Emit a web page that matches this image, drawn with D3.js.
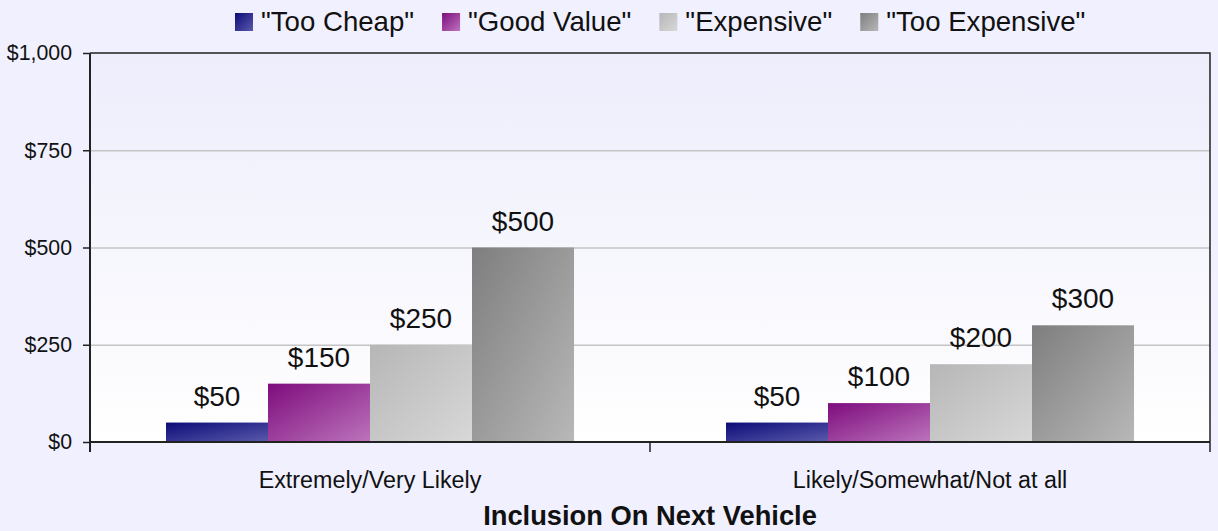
<!DOCTYPE html>
<html>
<head>
<meta charset="utf-8">
<script src="https://cdn.jsdelivr.net/npm/d3@7"></script>
<style>
  html, body { margin: 0; padding: 0; background: #f0f0ff; }
  svg { display: block; font-family: "Liberation Sans", Arial, sans-serif; }
</style>
</head>
<body>
<svg id="chart" width="1218" height="531"></svg>
<script>
const categories = ["Extremely/Very Likely", "Likely/Somewhat/Not at all"];
const seriesNames = ["\"Too Cheap\"", "\"Good Value\"", "\"Expensive\"", "\"Too Expensive\""];
const tooCheap = [50, 50];
const goodValue = [150, 100];
const expensive = [250, 200];
const tooExpensive = [500, 300];
const yTicks = [0, 250, 500, 750, 1000];
const xTitle = "Inclusion On Next Vehicle";

const seriesValues = [tooCheap, goodValue, expensive, tooExpensive];
const gradStops = [
  ["#0c0c78", "#5a5aac"],
  ["#7e0c7e", "#bc74bc"],
  ["#b6b6b6", "#d8d8d8"],
  ["#7e7e7e", "#b8b8b8"]
];

const svg = d3.select("#chart");
const W = 1218, H = 531;
const m = { left: 90, right: 1210, top: 53, bottom: 442 };

const defs = svg.append("defs");
const bg = defs.append("linearGradient").attr("id", "plotbg")
  .attr("x1", 0).attr("y1", 0).attr("x2", 0).attr("y2", 1);
bg.append("stop").attr("offset", "0%").attr("stop-color", "#ededfc");
bg.append("stop").attr("offset", "100%").attr("stop-color", "#ffffff");

gradStops.forEach((s, i) => {
  const g = defs.append("linearGradient").attr("id", "g" + i)
    .attr("x1", 0).attr("y1", 0).attr("x2", 1).attr("y2", 1);
  g.append("stop").attr("offset", "0%").attr("stop-color", s[0]);
  g.append("stop").attr("offset", "100%").attr("stop-color", s[1]);
});

svg.append("rect").attr("width", W).attr("height", H).attr("fill", "#f0f0ff");

const x0 = d3.scaleBand().domain(categories).range([m.left, m.right]).padding(0);
const x1 = d3.scaleBand().domain(seriesNames).range([0, x0.bandwidth()])
  .paddingInner(0).paddingOuter(0.745);
const y = d3.scaleLinear().domain([0, 1000]).range([m.bottom, m.top]);

// plot background
svg.append("rect")
  .attr("x", m.left).attr("y", m.top)
  .attr("width", m.right - m.left).attr("height", m.bottom - m.top)
  .attr("fill", "url(#plotbg)");

// gridlines
svg.append("g").selectAll("line")
  .data(yTicks.filter(t => t > 0 && t < 1000))
  .join("line")
  .attr("x1", m.left).attr("x2", m.right)
  .attr("y1", d => y(d) + 0.5).attr("y2", d => y(d) + 0.5)
  .attr("stroke", "#c4c4c4").attr("stroke-width", 1.5);

// plot border (top, right)
svg.append("path")
  .attr("d", `M${m.left},${m.top}H${m.right}V${m.bottom}`)
  .attr("fill", "none").attr("stroke", "#222").attr("stroke-width", 1.5);

// bars
const groups = svg.append("g").selectAll("g")
  .data(categories)
  .join("g")
  .attr("transform", d => `translate(${x0(d)},0)`);

groups.selectAll("rect")
  .data((c, ci) => seriesNames.map((s, si) => ({ s, si, v: seriesValues[si][ci] })))
  .join("rect")
  .attr("x", d => x1(d.s))
  .attr("width", x1.bandwidth())
  .attr("y", d => y(d.v))
  .attr("height", d => y(0) - y(d.v))
  .attr("fill", d => `url(#g${d.si})`);

groups.selectAll("text")
  .data((c, ci) => seriesNames.map((s, si) => ({ s, si, v: seriesValues[si][ci] })))
  .join("text")
  .attr("x", d => x1(d.s) + x1.bandwidth() / 2)
  .attr("y", d => y(d.v) - 17)
  .attr("text-anchor", "middle")
  .attr("font-size", 28)
  .attr("fill", "#111")
  .text(d => "$" + d3.format(",")(d.v));

// y axis
const yAxis = d3.axisLeft(y).tickValues(yTicks)
  .tickFormat(d => "$" + d3.format(",")(d))
  .tickSize(7).tickPadding(11);
const ya = svg.append("g").attr("transform", `translate(${m.left},0)`).call(yAxis);
ya.select(".domain").attr("stroke", "#222").attr("stroke-width", 2)
  .attr("d", `M0,${m.top}V${m.bottom + 10}`);
ya.selectAll(".tick line").attr("stroke", "#222").attr("stroke-width", 1.5);
ya.selectAll(".tick text").attr("font-size", 21.3).attr("fill", "#111")
  .attr("font-family", "Liberation Sans, Arial, sans-serif");

// x axis
const xAxis = d3.axisBottom(x0).tickSize(0).tickPadding(0);
const xa = svg.append("g").attr("transform", `translate(0,${m.bottom})`).call(xAxis);
xa.select(".domain").attr("stroke", "#222").attr("stroke-width", 2)
  .attr("d", `M${m.left},0H${m.right}`);
xa.selectAll(".tick text").attr("font-size", 23.3).attr("fill", "#111")
  .attr("font-family", "Liberation Sans, Arial, sans-serif")
  .attr("dy", null).attr("y", 46);
// category boundary ticks
const bounds = categories.map(c => x0(c)).concat([m.right]);
xa.append("g").selectAll("line").data(bounds).join("line")
  .attr("x1", d => d).attr("x2", d => d)
  .attr("y1", 0).attr("y2", 10)
  .attr("stroke", "#222").attr("stroke-width", 1.5);

// x title
svg.append("text")
  .attr("x", (m.left + m.right) / 2).attr("y", 525)
  .attr("text-anchor", "middle")
  .attr("font-size", 27.3).attr("font-weight", "bold").attr("fill", "#111")
  .text(xTitle);

// legend
const legend = svg.append("g");
let lx = 235;
seriesNames.forEach((s, i) => {
  const g = legend.append("g");
  g.append("rect").attr("x", lx).attr("y", 13).attr("width", 18).attr("height", 18)
    .attr("fill", `url(#g${i})`);
  const t = g.append("text").attr("x", lx + 26).attr("y", 31)
    .attr("font-size", 27.6).attr("fill", "#111").text(s);
  lx += 26 + t.node().getComputedTextLength() + 28;
});
</script>
</body>
</html>
